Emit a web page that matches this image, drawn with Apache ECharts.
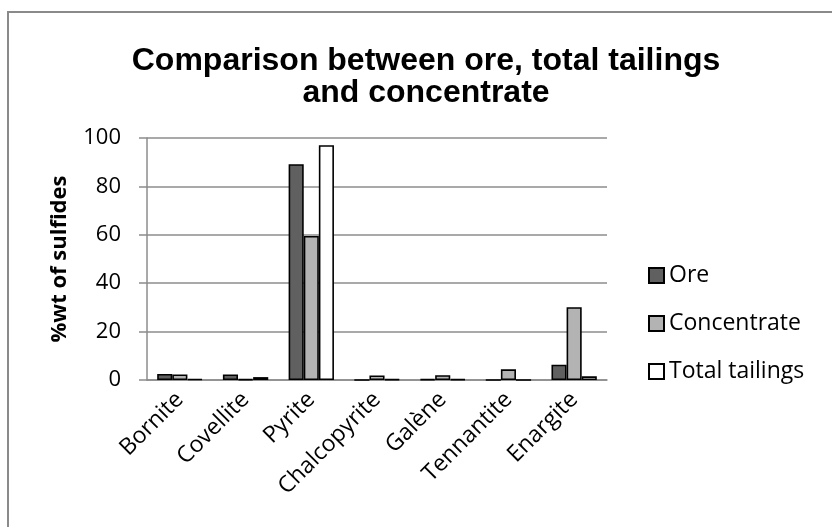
<!DOCTYPE html>
<html>
<head>
<meta charset="utf-8">
<script src="https://cdn.jsdelivr.net/npm/echarts@6/dist/echarts.min.js"></script>
<style>
  html, body { margin: 0; padding: 0; background: #fff; }
  #chart { width: 832px; height: 527px; }
</style>
</head>
<body>
<div id="chart"></div>
<script>
// Mineral categories along the x axis
const categories = ['Bornite', 'Covellite', 'Pyrite', 'Chalcopyrite', 'Galène', 'Tennantite', 'Enargite'];

// %wt of sulfides for each product stream
const ore = [2.5, 2.3, 89.2, 0, 0.3, 0, 6.3];
const concentrate = [2.3, 0.3, 59.5, 1.9, 2.0, 4.4, 30.1];
const totalTailings = [0.4, 1.2, 97, 0.3, 0.3, 0, 1.5];

// Y axis ticks
const yTicks = [0, 20, 40, 60, 80, 100];

const seriesNames = ['Ore', 'Concentrate', 'Total tailings'];

const font = '"Open Sans", sans-serif';
const gridColor = '#8c8c8c';

const chart = echarts.init(document.getElementById('chart'), null, { renderer: 'canvas' });

function barSeries(name, data, color) {
  return {
    name: name,
    type: 'bar',
    data: data,
    barGap: '0%',
    barCategoryGap: '31%',
    itemStyle: { color: color, borderColor: '#000', borderWidth: 1.6 },
    emphasis: { disabled: true }
  };
}

chart.setOption({
  animation: false,
  backgroundColor: '#fff',
  graphic: [{
    type: 'rect',
    shape: { x: 8, y: 12, width: 1000, height: 1000 },
    style: { fill: 'none', stroke: '#8a8a8a', lineWidth: 2 },
    silent: true
  }],
  title: {
    text: 'Comparison between ore, total tailings\nand concentrate',
    left: 421,
    top: 40,
    textAlign: 'center',
    textStyle: {
      fontFamily: '"Liberation Sans", Arial, sans-serif',
      fontWeight: 'bold',
      fontSize: 32,
      lineHeight: 32,
      color: '#000'
    }
  },
  legend: {
    orient: 'vertical',
    left: 648,
    top: 264,
    padding: 0,
    itemWidth: 15,
    itemHeight: 15,
    itemGap: 25,
    itemTextGap: 7,
    icon: 'rect',
    data: seriesNames,
    textStyle: { fontFamily: font, fontSize: 23, color: '#000' },
    selectedMode: false
  },
  grid: {
    left: 147,
    right: 225,
    top: 138,
    bottom: 147,
    containLabel: false
  },
  xAxis: {
    type: 'category',
    data: categories,
    axisLine: { lineStyle: { color: gridColor, width: 1.5 } },
    axisTick: { show: false },
    axisLabel: {
      rotate: 45,
      interval: 0,
      margin: 16,
      fontFamily: font,
      fontSize: 23,
      color: '#000'
    }
  },
  yAxis: {
    type: 'value',
    min: yTicks[0],
    max: yTicks[yTicks.length - 1],
    interval: 20,
    name: '%wt of sulfides',
    nameLocation: 'middle',
    nameGap: 76,
    nameTextStyle: { fontFamily: font, fontSize: 22, fontWeight: 'bold', color: '#000' },
    axisLine: { show: true, lineStyle: { color: gridColor, width: 1.5 } },
    axisTick: { show: true, length: 8, lineStyle: { color: gridColor, width: 1.5 } },
    axisLabel: { fontFamily: font, fontSize: 22, color: '#000', margin: 26 },
    splitLine: { lineStyle: { color: gridColor, width: 1.5 } }
  },
  series: [
    barSeries(seriesNames[0], ore, '#606060'),
    barSeries(seriesNames[1], concentrate, '#b3b3b3'),
    barSeries(seriesNames[2], totalTailings, '#ffffff')
  ]
});
</script>
</body>
</html>
